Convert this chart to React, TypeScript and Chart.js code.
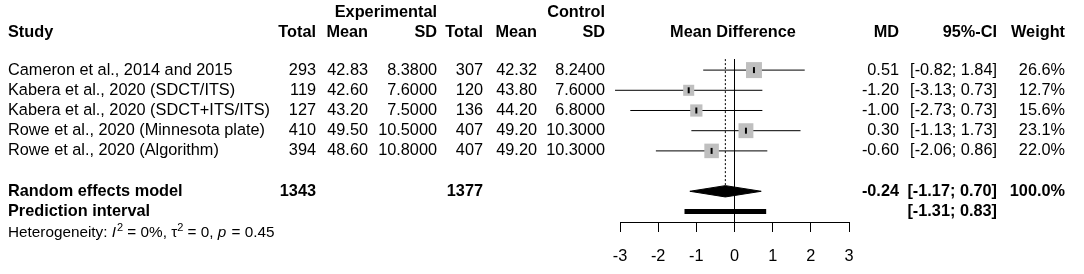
import React, { useEffect, useRef } from 'react';
import { Chart, registerables } from 'chart.js';

Chart.register(...registerables);

const studies = [
  'Cameron et al., 2014 and 2015',
  'Kabera et al., 2020 (SDCT/ITS)',
  'Kabera et al., 2020 (SDCT+ITS/ITS)',
  'Rowe et al., 2020 (Minnesota plate)',
  'Rowe et al., 2020 (Algorithm)',
];
const expTotal = [293, 119, 127, 410, 394];
const expMean = [42.83, 42.6, 43.2, 49.5, 48.6];
const expSD = [8.38, 7.6, 7.5, 10.5, 10.8];
const ctrlTotal = [307, 120, 136, 407, 407];
const ctrlMean = [42.32, 43.8, 44.2, 49.2, 49.2];
const ctrlSD = [8.24, 7.6, 6.8, 10.3, 10.3];
const md = [0.51, -1.2, -1.0, 0.3, -0.6];
const ciLower = [-0.82, -3.13, -2.73, -1.13, -2.06];
const ciUpper = [1.84, 0.73, 0.73, 1.73, 0.86];
const weights = [26.6, 12.7, 15.6, 23.1, 22.0];

const pooledLabel = 'Random effects model';
const pooledExpTotal = 1343;
const pooledCtrlTotal = 1377;
const pooledMD = -0.24;
const pooledLower = -1.17;
const pooledUpper = 0.7;
const pooledWeight = 100.0;

const predLabel = 'Prediction interval';
const predLower = -1.31;
const predUpper = 0.83;

const hetI2 = '0%';
const hetTau2 = '0';
const hetP = '0.45';

const xTicks = [-3, -2, -1, 0, 1, 2, 3];

const FONT = "'Liberation Sans', Arial, sans-serif";
const MAIN_SIZE = 16.3;

const ROW_POOLED = 7;
const ROW_PRED = 8;
const ROW_HEADER = -0.88;
const ROW_GROUP = -1.87;
const ROW_HET = 9.07;

const COL = {
  study: 8,
  eTotal: 316,
  eMean: 368,
  eSD: 437,
  cTotal: 483,
  cMean: 537,
  cSD: 605,
  mdTitle: 733,
  md: 899,
  ci: 997,
  w: 1065,
};

const fmtCI = (lo: number, hi: number) => `[${lo.toFixed(2)}; ${hi.toFixed(2)}]`;

const textPlugin = {
  id: 'forestText',
  afterDraw(chart: any) {
    const ctx = chart.ctx as CanvasRenderingContext2D;
    const ys = chart.scales.y;
    const py = (r: number) => ys.getPixelForValue(r);
    ctx.save();
    ctx.fillStyle = '#000';
    ctx.textBaseline = 'middle';
    const put = (t: string, x: number, r: number, align: CanvasTextAlign, bold = false) => {
      ctx.font = `${bold ? 'bold ' : ''}${MAIN_SIZE}px ${FONT}`;
      ctx.textAlign = align;
      ctx.fillText(t, x, py(r));
    };
    put('Experimental', COL.eSD, ROW_GROUP, 'right', true);
    put('Control', COL.cSD, ROW_GROUP, 'right', true);
    put('Study', COL.study, ROW_HEADER, 'left', true);
    put('Total', COL.eTotal, ROW_HEADER, 'right', true);
    put('Mean', COL.eMean, ROW_HEADER, 'right', true);
    put('SD', COL.eSD, ROW_HEADER, 'right', true);
    put('Total', COL.cTotal, ROW_HEADER, 'right', true);
    put('Mean', COL.cMean, ROW_HEADER, 'right', true);
    put('SD', COL.cSD, ROW_HEADER, 'right', true);
    put('Mean Difference', COL.mdTitle, ROW_HEADER, 'center', true);
    put('MD', COL.md, ROW_HEADER, 'right', true);
    put('95%-CI', COL.ci, ROW_HEADER, 'right', true);
    put('Weight', COL.w, ROW_HEADER, 'right', true);
    studies.forEach((s, i) => {
      const r = i + 1;
      put(s, COL.study, r, 'left');
      put(String(expTotal[i]), COL.eTotal, r, 'right');
      put(expMean[i].toFixed(2), COL.eMean, r, 'right');
      put(expSD[i].toFixed(4), COL.eSD, r, 'right');
      put(String(ctrlTotal[i]), COL.cTotal, r, 'right');
      put(ctrlMean[i].toFixed(2), COL.cMean, r, 'right');
      put(ctrlSD[i].toFixed(4), COL.cSD, r, 'right');
      put(md[i].toFixed(2), COL.md, r, 'right');
      put(fmtCI(ciLower[i], ciUpper[i]), COL.ci, r, 'right');
      put(weights[i].toFixed(1) + '%', COL.w, r, 'right');
    });
    put(pooledLabel, COL.study, ROW_POOLED, 'left', true);
    put(String(pooledExpTotal), COL.eTotal, ROW_POOLED, 'right', true);
    put(String(pooledCtrlTotal), COL.cTotal, ROW_POOLED, 'right', true);
    put(pooledMD.toFixed(2), COL.md, ROW_POOLED, 'right', true);
    put(fmtCI(pooledLower, pooledUpper), COL.ci, ROW_POOLED, 'right', true);
    put(pooledWeight.toFixed(1) + '%', COL.w, ROW_POOLED, 'right', true);
    put(predLabel, COL.study, ROW_PRED, 'left', true);
    put(fmtCI(predLower, predUpper), COL.ci, ROW_PRED, 'right', true);
    const hs = 15.3;
    const segs: { t: string; it?: boolean; sup?: boolean }[] = [
      { t: 'Heterogeneity: ' },
      { t: 'I', it: true },
      { t: '2', sup: true },
      { t: ` = ${hetI2}, \u03C4` },
      { t: '2', sup: true },
      { t: ` = ${hetTau2}, ` },
      { t: 'p', it: true },
      { t: ` = ${hetP}` },
    ];
    let x = COL.study;
    const yh = py(ROW_HET);
    ctx.textAlign = 'left';
    segs.forEach((sg) => {
      const size = sg.sup ? 11 : hs;
      ctx.font = `${sg.it ? 'italic ' : ''}${size}px ${FONT}`;
      ctx.fillText(sg.t, x, sg.sup ? yh - 5 : yh);
      x += ctx.measureText(sg.t).width + (sg.it ? 1 : 0);
    });
    ctx.restore();
  },
};

export default function App() {
  const ref = useRef<HTMLCanvasElement>(null);
  useEffect(() => {
    if (!ref.current) return;
    const lineBase = {
      type: 'line' as const,
      borderColor: '#000',
      borderWidth: 1,
      pointRadius: 0,
      fill: false,
      tension: 0,
      clip: false as const,
      order: 3,
    };
    const ciSets = studies.map((_, i) => ({
      ...lineBase,
      data: [
        { x: ciLower[i], y: i + 1 },
        { x: ciUpper[i], y: i + 1 },
      ],
    }));
    const dh = 0.28;
    const datasets: any[] = [
      {
        type: 'scatter',
        data: md.map((m, i) => ({ x: m, y: i + 1 })),
        pointStyle: 'line',
        rotation: 90,
        pointRadius: 3,
        borderColor: '#000',
        borderWidth: 2,
        backgroundColor: '#000',
        order: 0,
        clip: false,
      },
      {
        type: 'scatter',
        data: md.map((m, i) => ({ x: m, y: i + 1 })),
        pointStyle: 'rect',
        pointRadius: weights.map((w) => (3.1 * Math.sqrt(w)) / Math.SQRT2),
        backgroundColor: '#bfbfbf',
        borderWidth: 0,
        borderColor: 'rgba(0,0,0,0)',
        order: 1,
        clip: false,
      },
      ...ciSets,
      {
        ...lineBase,
        data: [
          { x: pooledLower, y: ROW_POOLED },
          { x: pooledMD, y: ROW_POOLED - dh },
          { x: pooledUpper, y: ROW_POOLED },
        ],
        order: 2,
      },
      {
        ...lineBase,
        data: [
          { x: pooledLower, y: ROW_POOLED },
          { x: pooledMD, y: ROW_POOLED + dh },
          { x: pooledUpper, y: ROW_POOLED },
        ],
        fill: '-1',
        backgroundColor: '#000',
        order: 2,
      },
      {
        ...lineBase,
        data: [
          { x: predLower, y: ROW_PRED },
          { x: predUpper, y: ROW_PRED },
        ],
        borderWidth: 5,
        borderCapStyle: 'butt',
        order: 2,
      },
      {
        ...lineBase,
        data: [
          { x: 0, y: 0.455 },
          { x: 0, y: 8.52 },
        ],
        order: 4,
      },
      {
        ...lineBase,
        data: [
          { x: pooledMD, y: 0.455 },
          { x: pooledMD, y: 6.74 },
        ],
        borderDash: [2, 2],
        order: 4,
      },
    ];
    const chart = new Chart(ref.current, {
      type: 'line',
      data: { datasets },
      options: {
        responsive: false,
        animation: false,
        events: [],
        layout: { autoPadding: false, padding: { left: 620, right: 235, top: 0, bottom: 0 } },
        plugins: { legend: { display: false }, tooltip: { enabled: false } },
        scales: {
          x: {
            type: 'linear',
            min: -3,
            max: 3,
            afterBuildTicks: (s: any) => {
              s.ticks = xTicks.map((v) => ({ value: v }));
            },
            afterFit: (s: any) => {
              s.height = 52;
            },
            ticks: {
              color: '#000',
              font: { family: FONT, size: MAIN_SIZE },
              padding: 15,
              maxRotation: 0,
              autoSkip: false,
              callback: (v: any) => String(v),
            },
            grid: {
              drawOnChartArea: false,
              drawTicks: true,
              tickLength: 10,
              color: '#000',
              lineWidth: 1,
            },
            border: { display: true, color: '#000', width: 1 },
          },
          y: {
            type: 'linear',
            display: false,
            min: -2.47,
            max: 8.52,
            reverse: true,
          },
        },
      } as any,
      plugins: [textPlugin],
    });
    return () => chart.destroy();
  }, []);
  return (
    <div style={{ position: 'absolute', left: 0, top: 0, width: 1084, height: 274, background: '#fff' }}>
      <canvas ref={ref} width={1084} height={274} style={{ display: 'block' }} />
    </div>
  );
}
